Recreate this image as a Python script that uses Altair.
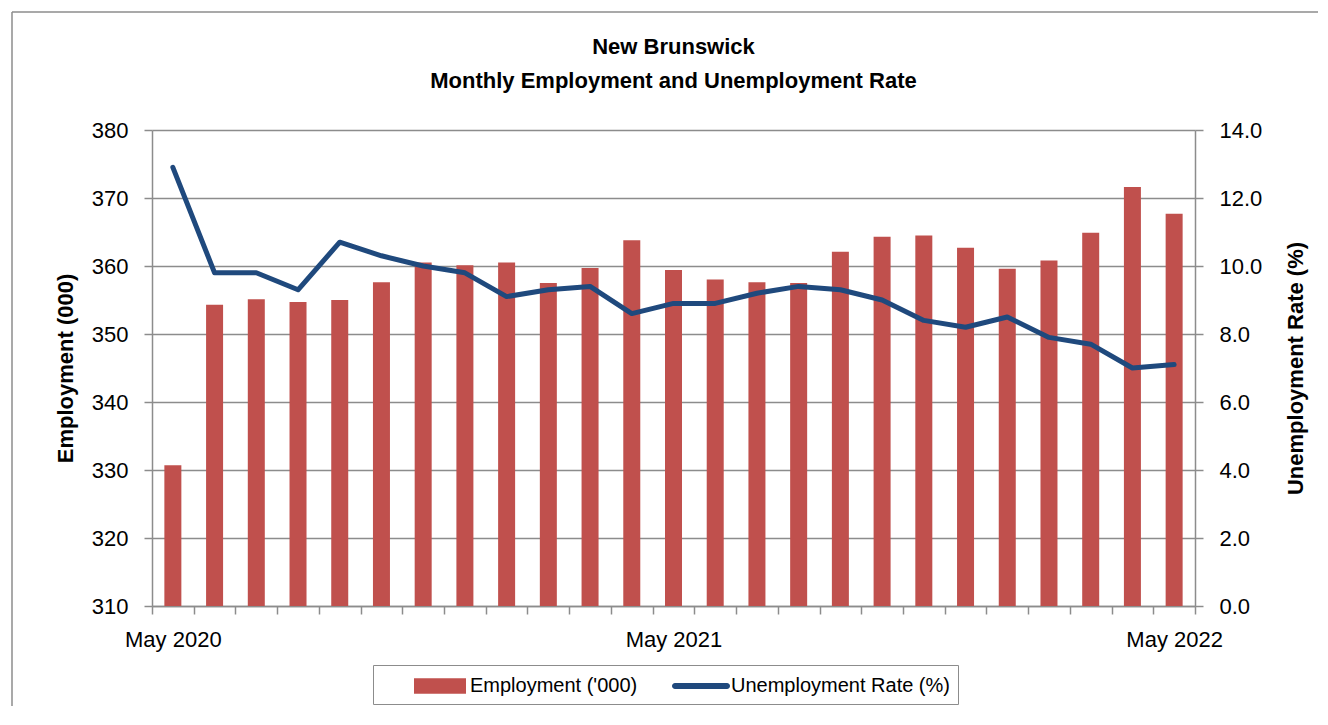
import altair as alt
import pandas as pd

# ---------------- data ----------------
months = ["May 2020", "Jun 2020", "Jul 2020", "Aug 2020", "Sep 2020", "Oct 2020",
          "Nov 2020", "Dec 2020", "Jan 2021", "Feb 2021", "Mar 2021", "Apr 2021",
          "May 2021", "Jun 2021", "Jul 2021", "Aug 2021", "Sep 2021", "Oct 2021",
          "Nov 2021", "Dec 2021", "Jan 2022", "Feb 2022", "Mar 2022", "Apr 2022",
          "May 2022"]
employment = [330.7, 354.3, 355.1, 354.7, 355.0, 357.6, 360.5, 360.1, 360.5, 357.5,
              359.7, 363.8, 359.4, 358.0, 357.6, 357.5, 362.1, 364.3, 364.5, 362.7,
              359.6, 360.8, 364.9, 371.6, 367.7]
unemployment_rate = [12.9, 9.8, 9.8, 9.3, 10.7, 10.3, 10.0, 9.8, 9.1, 9.3,
                     9.4, 8.6, 8.9, 8.9, 9.2, 9.4, 9.3, 9.0, 8.4, 8.2,
                     8.5, 7.9, 7.7, 7.0, 7.1]
emp_name = "Employment ('000)"
ur_name = "Unemployment Rate (%)"
left_ticks = [310, 320, 330, 340, 350, 360, 370, 380]
right_ticks = [0, 2, 4, 6, 8, 10, 12, 14]
shown_x_labels = ["May 2020", "May 2021", "May 2022"]
title_lines = ["New Brunswick", "Monthly Employment and Unemployment Rate"]
left_title = "Employment (000)"
right_title = "Unemployment Rate (%)"

# ---------------- build ----------------
FONT = "Liberation Sans"
GRAY = "#8c8c8c"
W, H = 1043, 476
n = len(months)

df = pd.DataFrame({
    "idx": list(range(n)),
    "month": months,
    "employment": employment,
    "rate": unemployment_rate,
    "emp_series": [emp_name] * n,
    "ur_series": [ur_name] * n,
})

boundaries = [i - 0.5 for i in range(n + 1)]
label_arr = [m if m in shown_x_labels else "" for m in months] + [""]
label_expr = "[" + ",".join("'" + s + "'" for s in label_arr) + "][round(datum.value + 0.5)]"

color_scale = alt.Scale(domain=[emp_name, ur_name], range=["#C0504D", "#1F497D"])

bar_path = "M-2,-0.6H2V0.6H-2Z"
line_path = "M-2,-0.23H2A0.23,0.23 0 0 1 2,0.23H-2A0.23,0.23 0 0 1 -2,-0.23Z"
shape_expr = "datum.value === '" + ur_name + "' ? '" + line_path + "' : '" + bar_path + "'"

legend = alt.Legend(
    title=None, orient="none", legendX=221, legendY=535, direction="horizontal",
    padding=8, strokeColor=GRAY, fillColor="white",
    labelFont=FONT, labelFontSize=20, labelColor="black", labelLimit=0,
    symbolSize=676, symbolOffset=46, labelOffset=17, columnPadding=4,
    symbolType=alt.ExprRef(expr=shape_expr),
    symbolFillColor=alt.ExprRef(expr="scale('color', datum.value)"),
    symbolStrokeColor="transparent", symbolStrokeWidth=0, symbolOpacity=1,
)

x_scale = alt.Scale(domain=[-0.5, n - 0.5], nice=False, zero=False, padding=0)
x_axis = alt.Axis(values=boundaries, labelExpr=label_expr, title=None, grid=False,
                  tickSize=8, labelOffset=W / n / 2, labelPadding=15,
                  labelFlush=False, labelOverlap=False, labelBound=False,
                  labelFont=FONT, labelFontSize=22, labelColor="black",
                  domainColor=GRAY, tickColor=GRAY, domainWidth=1.5, tickWidth=1.5,
                  labelAngle=0)

bars = alt.Chart(df).mark_bar(width=17).encode(
    x=alt.X("idx:Q", scale=x_scale, axis=x_axis),
    y=alt.Y("employment:Q",
            scale=alt.Scale(domain=[310, 380], nice=False, zero=False, padding=0),
            axis=alt.Axis(values=left_ticks, title=left_title, grid=True,
                          gridColor=GRAY, gridWidth=1.5, tickSize=8,
                          labelPadding=16, labelFont=FONT, labelFontSize=22,
                          labelColor="black", domainColor=GRAY, tickColor=GRAY,
                          domainWidth=1.5, tickWidth=1.5,
                          titleFont=FONT, titleFontSize=22, titleFontWeight="bold",
                          titleColor="black", titleX=-87, titleY=H / 2,
                          titleAngle=270, titleAlign="center", titleBaseline="middle")),
    y2=alt.datum(310),
    color=alt.Color("emp_series:N", scale=color_scale, legend=legend),
)

line = alt.Chart(df).mark_line(strokeWidth=5, strokeCap="round", strokeJoin="round").encode(
    x=alt.X("idx:Q", scale=x_scale, axis=x_axis),
    y=alt.Y("rate:Q",
            scale=alt.Scale(domain=[0, 14], nice=False, zero=False),
            axis=alt.Axis(orient="right", values=right_ticks, format=".1f",
                          title=right_title, grid=False, tickSize=8,
                          labelPadding=16, labelFont=FONT, labelFontSize=22,
                          labelColor="black", domainColor=GRAY, tickColor=GRAY,
                          domainWidth=1.5, tickWidth=1.5,
                          titleFont=FONT, titleFontSize=22, titleFontWeight="bold",
                          titleColor="black", titleX=100, titleY=H / 2,
                          titleAngle=270, titleAlign="center", titleBaseline="middle")),
    color=alt.Color("ur_series:N", scale=color_scale, legend=legend),
)

frame_df = pd.DataFrame({"k": [0]})
frame_top = alt.Chart(frame_df).mark_rule(color=GRAY, strokeWidth=1.5).encode(
    x=alt.value(-140), x2=alt.value(1166), y=alt.value(-118))
frame_left = alt.Chart(frame_df).mark_rule(color=GRAY, strokeWidth=1.5).encode(
    x=alt.value(-140), y=alt.value(-118), y2=alt.value(580))

chart = alt.layer(frame_top, frame_left, bars, line).resolve_scale(
    y="independent"
).properties(
    width=W, height=H,
    autosize=alt.AutoSizeParams(type="none"),
    padding={"left": 144, "top": 122, "right": 125, "bottom": 100},
    title=alt.Title(title_lines, font=FONT, fontSize=22, fontWeight="bold",
                    color="black", anchor="middle", lineHeight=34, offset=0,
                    baseline="alphabetic", dy=99, frame="group"),
).configure_view(strokeWidth=0)

chart.save("out.html", embed_options={"renderer": "svg", "actions": False})
